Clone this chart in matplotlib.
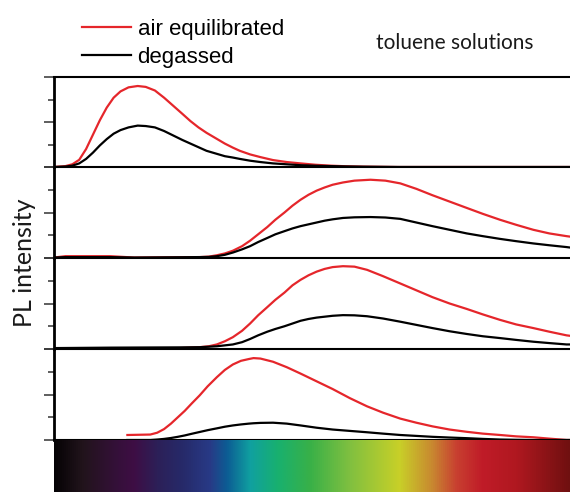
import numpy as np
import matplotlib
matplotlib.use("Agg")
import matplotlib.pyplot as plt
from matplotlib.colors import LinearSegmentedColormap

# wavelength axis (nm), four panels top to bottom
wl1 = [350, 360, 366, 372, 378, 384, 390, 396, 402, 408, 415, 423, 430, 438, 446, 454, 462, 469,
       476, 483, 491, 499, 506, 512, 521, 530, 541, 553, 565, 578, 591, 605, 620, 650, 800]
air1 = [0, 0.01, 0.03, 0.08, 0.20, 0.36, 0.52, 0.66, 0.77, 0.84, 0.885, 0.90, 0.89, 0.85, 0.77,
        0.68, 0.59, 0.51, 0.44, 0.38, 0.32, 0.26, 0.215, 0.18, 0.14, 0.11, 0.077, 0.055, 0.04,
        0.025, 0.015, 0.008, 0.004, 0, 0]
deg1 = [0, 0.005, 0.015, 0.04, 0.09, 0.16, 0.24, 0.31, 0.37, 0.41, 0.44, 0.46, 0.455, 0.44, 0.40,
        0.35, 0.30, 0.26, 0.22, 0.18, 0.15, 0.12, 0.105, 0.09, 0.07, 0.055, 0.04, 0.03, 0.02,
        0.014, 0.01, 0.006, 0.003, 0, 0]

wl2 = [350, 360, 399, 420, 477, 485, 492, 499, 506, 514, 521, 528, 536, 543, 551, 558, 565, 572,
       579, 586, 593, 602, 612, 626, 639, 652, 666, 680, 695, 710, 724, 739, 753, 768, 782, 797, 800]
air2 = [0.005, 0.02, 0.02, 0.005, 0.01, 0.015, 0.03, 0.05, 0.08, 0.13, 0.19, 0.26, 0.34, 0.42,
        0.50, 0.575, 0.64, 0.695, 0.74, 0.775, 0.805, 0.83, 0.85, 0.86, 0.85, 0.82, 0.76, 0.69,
        0.62, 0.55, 0.485, 0.42, 0.365, 0.31, 0.27, 0.24, 0.235]
deg2 = [0.005, 0.01, 0.01, 0.005, 0.01, 0.012, 0.02, 0.035, 0.06, 0.095, 0.13, 0.175, 0.22, 0.26,
        0.295, 0.325, 0.35, 0.37, 0.39, 0.41, 0.425, 0.44, 0.447, 0.45, 0.445, 0.43, 0.39, 0.35,
        0.31, 0.27, 0.24, 0.21, 0.185, 0.16, 0.14, 0.12, 0.115]

wl3 = [350, 400, 460, 477, 485, 492, 499, 506, 514, 521, 528, 536, 543, 551, 558, 565, 572, 579,
       586, 593, 602, 612, 623, 637, 652, 666, 680, 695, 710, 724, 739, 753, 768, 782, 797, 800]
air3 = [0.005, 0.005, 0.01, 0.02, 0.03, 0.05, 0.085, 0.13, 0.20, 0.28, 0.37, 0.46, 0.54, 0.62,
        0.70, 0.76, 0.81, 0.85, 0.88, 0.90, 0.91, 0.905, 0.87, 0.80, 0.72, 0.645, 0.57, 0.50,
        0.44, 0.38, 0.32, 0.27, 0.23, 0.19, 0.15, 0.145]
deg3 = [0.01, 0.015, 0.018, 0.02, 0.025, 0.03, 0.04, 0.05, 0.075, 0.11, 0.15, 0.19, 0.22, 0.25,
        0.28, 0.31, 0.33, 0.345, 0.355, 0.365, 0.372, 0.37, 0.36, 0.335, 0.30, 0.265, 0.23,
        0.195, 0.165, 0.14, 0.12, 0.10, 0.08, 0.065, 0.05, 0.05]

wl4 = [414, 434, 440, 446, 452, 458, 464, 470, 477, 484, 492, 499, 506, 513, 520, 524, 530, 541,
       553, 565, 579, 593, 608, 623, 637, 652, 666, 680, 695, 710, 724, 739, 753, 768, 782, 797, 800]
air4 = [0.055, 0.06, 0.08, 0.12, 0.18, 0.25, 0.32, 0.40, 0.49, 0.59, 0.69, 0.77, 0.83, 0.87, 0.89,
        0.90, 0.895, 0.86, 0.80, 0.73, 0.645, 0.56, 0.46, 0.37, 0.30, 0.235, 0.19, 0.15, 0.115,
        0.09, 0.07, 0.055, 0.04, 0.03, 0.015, 0.0, 0.0]
deg4 = [0.0, 0.0, 0.005, 0.012, 0.022, 0.035, 0.05, 0.068, 0.088, 0.108, 0.128, 0.146, 0.16, 0.171,
        0.18, 0.184, 0.188, 0.19, 0.18, 0.16, 0.135, 0.115, 0.10, 0.085, 0.07, 0.055, 0.045,
        0.035, 0.027, 0.02, 0.012, 0.005, 0.002, 0.0, 0.0, 0.0, 0.0]

panels = [(wl1, air1, deg1), (wl2, air2, deg2), (wl3, air3, deg3), (wl4, air4, deg4)]

# colour bar under the spectra
spec_pos = [0, 0.056, 0.122, 0.153, 0.2, 0.25, 0.302, 0.335, 0.38, 0.432, 0.496,
            0.574, 0.67, 0.734, 0.781, 0.831, 0.897, 1.0]
spec_col = ['#050305', '#22141c', '#35103a', '#3e0e44', '#2c2058', '#262a6a', '#283a86',
            '#0c5c94', '#10a0a0', '#18b070', '#38b048', '#80c040', '#c8d028', '#c88830',
            '#c84030', '#c01c28', '#b01820', '#701010']

red = '#e5262b'
W, H = 570, 492
fig = plt.figure(figsize=(W / 100, H / 100), dpi=100)

tops = [77, 167, 258, 349, 440]
x0 = 54
for i, (wl, air, deg) in enumerate(panels):
    y_top, y_bot = tops[i], tops[i + 1]
    ax = fig.add_axes([x0 / W, (H - y_bot) / H, (W - x0) / W, (y_bot - y_top) / H])
    la, = ax.plot(wl, air, color=red, lw=1.6, label='air equilibrated')
    ld, = ax.plot(wl, deg, color='black', lw=1.6, label='degassed')
    ax.set_xlim(350, 800)
    ax.set_ylim(0, 1)
    ax.set_xticks([])
    ax.set_yticks([0, 0.5, 1])
    ax.set_yticks([0.25, 0.75], minor=True)
    ax.set_yticklabels([])
    ax.tick_params(axis='y', which='major', direction='out', length=7, width=1.1, color='#333333')
    ax.tick_params(axis='y', which='minor', direction='out', length=4, width=1.1, color='#333333')
    ax.spines['right'].set_visible(False)
    ax.spines['top'].set_visible(i == 0)
    ax.spines['left'].set_linewidth(2.0)
    ax.spines['bottom'].set_linewidth(1.5)
    ax.spines['top'].set_linewidth(1.5)
    ax.patch.set_alpha(0)

cmap = LinearSegmentedColormap.from_list('spec', list(zip(spec_pos, spec_col)))
axs = fig.add_axes([x0 / W, 0, (W - x0) / W, (H - 440) / H])
axs.imshow(np.linspace(0, 1, 512)[None, :], aspect='auto', cmap=cmap, extent=[350, 800, 0, 1])
axs.set_axis_off()

fig.legend(handles=[la, ld], loc='upper left', bbox_to_anchor=(82 / W, 1 - 19 / H),
           frameon=False, handlelength=2.2, handletextpad=0.3, labelspacing=0.3,
           borderpad=0, borderaxespad=0,
           prop={'family': 'Liberation Sans', 'size': 16})

fig.text(455 / W, 1 - 43 / H, 'toluene solutions', ha='center', va='center',
         fontsize=15, family='Lato', color='#1a1a1a')
fig.text(25 / W, 1 - 263 / H, 'PL intensity', ha='center', va='center', rotation=90,
         fontsize=18, family='Lato', color='#1a1a1a')

fig.savefig('out.png', dpi=100)
